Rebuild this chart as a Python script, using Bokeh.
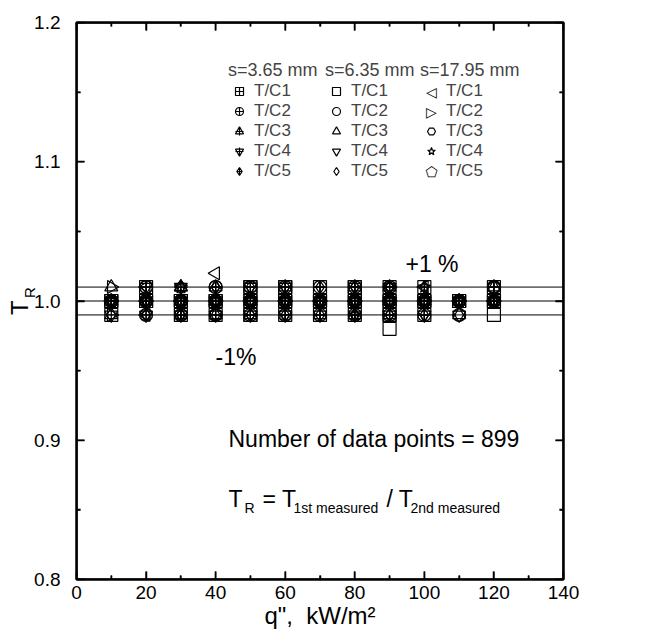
import numpy as np
from bokeh.plotting import figure
from bokeh.models import (Range1d, LinearAxis, Legend, LegendItem, Label, Span, BoxAnnotation,
                          FixedTicker, PrintfTickFormatter, ColumnDataSource)
from bokeh.core.properties import value
from bokeh.embed import file_html
from bokeh.resources import INLINE

FONT = "Liberation Sans"
NB = "\u00a0"

# ---------------- data ----------------
q_levels = [10, 20, 30, 40, 50, 60, 70, 80, 90, 100, 110, 120]
ref_lines = [0.99, 1.00, 1.01]
x_ticks = [0, 20, 40, 60, 80, 100, 120, 140]
x_minor = [10, 30, 50, 70, 90, 110, 130]
y_ticks = [0.8, 0.9, 1.0, 1.1, 1.2]
y_minor = [0.85, 0.95, 1.05, 1.15]
tc_labels = ["T/C1", "T/C2", "T/C3", "T/C4", "T/C5"]
group_titles = ["s=3.65 mm", "s=6.35 mm", "s=17.95 mm"]

# q values where T_R = 1.01 (hi) and 0.99 (lo); every series also has T_R = 1.00 at all q
s365_hi = [[20, 50, 60, 70, 80, 90, 100, 120], [20, 40, 50, 60, 70, 80, 90, 120],
           [30, 40, 60, 80, 90, 120], [20, 30, 50, 60, 80, 90], [40, 50, 70, 80, 90, 100]]
s365_lo = [[10, 30, 40, 50, 60, 70, 80, 90, 100], [20, 30, 50, 60, 70, 80, 90, 100],
           [30, 40, 50, 70, 80, 90], [30, 40, 50, 60, 70, 80, 90, 100], [20, 30, 50, 60, 80, 90, 100]]
s635_hi = [[50, 60, 80], [20, 40, 120], [10, 30], [60], [40, 90]]
s635_lo = [[50, 90, 120], [40, 110], [10, 110], [10, 20, 110], [30]]
s1795_hi = [[20, 100], [10, 90], [50, 120], [30, 100], [30, 90, 120]]
s1795_lo = [[20], [10], [40, 110], [80], [20, 30, 40, 60]]
# isolated readings
extra_q = {"s635_tc1": [90], "s1795_tc1": [40]}
extra_tr = {"s635_tc1": [0.98], "s1795_tc1": [1.02]}


def series_xy(hi, lo, key=None):
    xs = list(q_levels) + list(hi) + list(lo)
    ys = [ref_lines[1]] * len(q_levels) + [ref_lines[2]] * len(hi) + [ref_lines[0]] * len(lo)
    if key in extra_q:
        xs += extra_q[key]
        ys += extra_tr[key]
    return dict(x=xs, y=ys)


# ---------------- figure ----------------
FL, FR, FT, FB = 76, 563, 22, 579
W, H = 653, 642
X0, X1, Y0, Y1 = 0, 140, 0.8, 1.2
p = figure(width=W, height=H, x_range=Range1d(X0, X1), y_range=Range1d(Y0, Y1),
           output_backend="svg", toolbar_location=None,
           min_border_left=FL, min_border_right=W - FR, min_border_top=FT, min_border_bottom=H - FB)
p.outline_line_color = "black"
p.outline_line_width = 2
p.xgrid.visible = False
p.ygrid.visible = False
p.background_fill_color = None
p.border_fill_color = None

PX_X = (X1 - X0) / (FR - FL)   # data per pixel
PX_Y = (Y1 - Y0) / (FB - FT)


def xd(px):
    return X0 + (px - FL) * PX_X


def yd(py):
    return Y0 + (FB - py) * PX_Y


def style_axis(ax, kind, labels=True):
    if kind == "x":
        ax.ticker = FixedTicker(ticks=x_ticks, minor_ticks=x_minor)
        ax.major_label_standoff = 6
    else:
        ax.ticker = FixedTicker(ticks=y_ticks, minor_ticks=y_minor)
        ax.formatter = PrintfTickFormatter(format="%.1f")
        ax.major_label_standoff = 16
    ax.axis_line_width = 2
    ax.axis_line_color = "black"
    ax.major_tick_in = 8
    ax.major_tick_out = 0
    ax.minor_tick_in = 4
    ax.minor_tick_out = 0
    ax.major_tick_line_color = "black"
    ax.minor_tick_line_color = "black"
    ax.major_tick_line_width = 1.5
    ax.minor_tick_line_width = 1.5
    ax.major_label_text_font = FONT
    ax.major_label_text_font_size = "19px"
    ax.major_label_text_color = "black" if labels else None
    return ax


xb = style_axis(p.xaxis[0], "x")
xb.axis_label = 'q",' + NB + NB + 'kW/m\u00b2'
xb.axis_label_text_font = FONT
xb.axis_label_text_font_size = "24px"
xb.axis_label_text_font_style = "normal"
xb.axis_label_text_color = "black"
xb.axis_label_text_line_height = 1.0
xb.axis_label_standoff = 0

yb = style_axis(p.yaxis[0], "y")


def title_axis(text, size, standoff):
    return LinearAxis(ticker=FixedTicker(ticks=[]), axis_line_color=None, major_tick_line_color=None,
                      minor_tick_line_color=None, major_label_text_font_size="0px",
                      major_label_standoff=0,
                      major_tick_in=0, major_tick_out=0, minor_tick_in=0, minor_tick_out=0,
                      axis_label=text, axis_label_text_font=FONT, axis_label_text_font_size=size,
                      axis_label_text_font_style="normal", axis_label_text_color="black",
                      axis_label_text_line_height=1.0, axis_label_standoff=standoff)


# y title T_R: subscript "R" next to the tick labels, "T" outside it
p.add_layout(title_axis(NB * 4 + "R", "15px", -6), "left")
p.add_layout(title_axis("T" + NB * 2, "24px", -15), "left")
p.add_layout(style_axis(LinearAxis(), "x", labels=False), "above")
p.add_layout(style_axis(LinearAxis(), "y", labels=False), "right")

# frame lines drawn explicitly
for v in (Y0, Y1):
    p.add_layout(Span(location=v, dimension="width", line_color="black", line_width=2.2))
for v in (X0, X1):
    p.add_layout(Span(location=v, dimension="height", line_color="black", line_width=2.2))

# inward tick marks as thin boxes placed through the scales
MAJ, MIN, TW = 8, 4, 1.5
for ticks, L in ((x_ticks, MAJ), (x_minor, MIN)):
    for t in ticks:
        for b, tp in ((Y0, Y0 + L * PX_Y), (Y1 - L * PX_Y, Y1)):
            p.add_layout(BoxAnnotation(left=t - TW / 2 * PX_X, right=t + TW / 2 * PX_X,
                                       bottom=b, top=tp, fill_color="black", fill_alpha=1.0,
                                       line_color=None))
for ticks, L in ((y_ticks, MAJ), (y_minor, MIN)):
    for t in ticks:
        for lf, rt in ((X0, X0 + L * PX_X), (X1 - L * PX_X, X1)):
            p.add_layout(BoxAnnotation(left=lf, right=rt, bottom=t - TW / 2 * PX_Y,
                                       top=t + TW / 2 * PX_Y, fill_color="black", fill_alpha=1.0,
                                       line_color=None))

for v in ref_lines:
    p.add_layout(Span(location=v, dimension="width", line_color="black", line_width=1))

MS = 13
LW = 1.2

legends_items = [[], [], []]
empty = ColumnDataSource(dict(x=[], y=[], t=[]))
dummy = p.text("x", "y", text="t", source=empty)

# s = 6.35 mm : open markers
open_markers = ["square", "circle", "triangle", "inverted_triangle", "diamond"]
for i in range(5):
    src = ColumnDataSource(series_xy(s635_hi[i], s635_lo[i], "s635_tc%d" % (i + 1)))
    r = p.scatter("x", "y", source=src, marker=open_markers[i], size=MS, fill_color=None,
                  line_color="black", line_width=LW)
    legends_items[1].append(LegendItem(label=tc_labels[i], renderers=[r]))

# s = 17.95 mm
m17 = [("triangle", np.pi / 2), ("triangle", -np.pi / 2), ("hex", np.pi / 2), ("star", 0.0)]
for i in range(4):
    src = ColumnDataSource(series_xy(s1795_hi[i], s1795_lo[i], "s1795_tc%d" % (i + 1)))
    r = p.scatter("x", "y", source=src, marker=m17[i][0], angle=m17[i][1], size=MS,
                  fill_color=None, line_color="black", line_width=LW)
    if i in (2, 3):
        legends_items[2].append(LegendItem(label=tc_labels[i], renderers=[r]))
    else:
        legends_items[2].append(LegendItem(label=tc_labels[i], renderers=[dummy]))
src = ColumnDataSource(series_xy(s1795_hi[4], s1795_lo[4]))
src.data["t"] = ["\u2b20"] * len(src.data["x"])
r = p.text("x", "y", text="t", source=src, text_font=value("DejaVu Sans"), text_font_size="16px",
           text_align="center", text_baseline="middle", text_color="black")
legends_items[2].append(LegendItem(label=tc_labels[4], renderers=[dummy]))

# s = 3.65 mm : crossed markers (on top)
cross_markers = [["square_cross"], ["circle_cross"], ["triangle", "cross"],
                 ["inverted_triangle", "cross"], ["diamond_cross"]]
for i in range(5):
    src = ColumnDataSource(series_xy(s365_hi[i], s365_lo[i]))
    rs = []
    for m in cross_markers[i]:
        rs.append(p.scatter("x", "y", source=src, marker=m, size=MS, fill_color=None,
                            line_color="black", line_width=LW))
    legends_items[0].append(LegendItem(label=tc_labels[i], renderers=rs))

LEG_BOTTOM = 181
PITCH = 20
GW = 22
leg_left = [228, 325, 420]
for k in range(3):
    leg = Legend(items=legends_items[k], title=group_titles[k],
                 location=(leg_left[k] - FL, FB - LEG_BOTTOM),
                 title_text_font=FONT, title_text_font_size="18px", title_text_font_style="normal",
                 label_text_font=FONT, label_text_font_size="17px",
                 glyph_width=GW, glyph_height=PITCH, label_height=PITCH, spacing=0,
                 label_standoff=4, padding=0, margin=0, title_standoff=0,
                 border_line_color=None, background_fill_alpha=0)
    p.add_layout(leg)


def add_label(text, px, py, size, angle=0.0, align="left", baseline="alphabetic", font=FONT):
    p.add_layout(Label(x=xd(px), y=yd(py), text=text, text_font=font, text_font_size=size,
                       text_align=align, text_baseline=baseline, angle=angle, text_color="black"))


# legend glyphs that the legend cannot rotate / draw
sym17 = ["\u25c1", "\u25b7", None, None, "\u2b20"]
for i, s in enumerate(sym17):
    if s:
        add_label(s, leg_left[2] + GW / 2, LEG_BOTTOM - PITCH * (4 - i) - PITCH / 2, "14px",
                  align="center", baseline="middle", font="DejaVu Sans")

add_label("+1 %", 405, 263, "23px")
add_label("-1%", 215, 356, "23px")
add_label("Number of data points = 899", 228, 438, "23px")
add_label("T", 228, 498, "23px")
add_label("R", 244, 507, "14px")
add_label("= T", 262, 498, "23px")
add_label("1st measured", 293, 507, "14px")
add_label("/ T", 386, 498, "23px")
add_label("2nd measured", 410, 507, "14px")

open("out.html", "w").write(file_html(p, INLINE))
